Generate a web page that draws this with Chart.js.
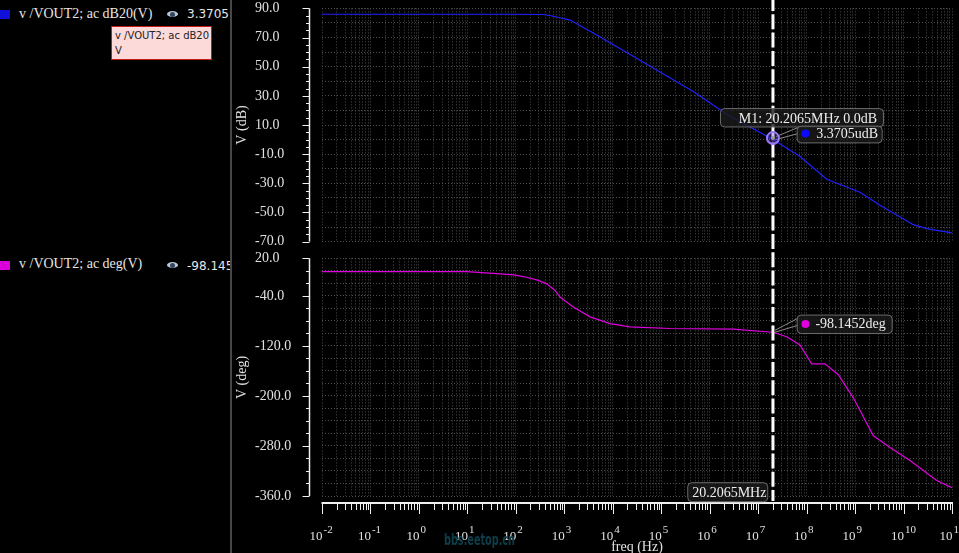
<!DOCTYPE html>
<html>
<head>
<meta charset="utf-8">
<script src="https://cdn.jsdelivr.net/npm/chart.js@4.4.1/dist/chart.umd.min.js"></script>
<style>
html, body { margin: 0; padding: 0; background: #000; width: 959px; height: 553px; overflow: hidden; }
#left { position: absolute; left: 0; top: 0; width: 230px; height: 553px; overflow: hidden; background: #000; }
#sep { position: absolute; left: 230px; top: 0; width: 2px; height: 553px; background: #474747; }
.sw { position: absolute; left: 0; width: 10px; height: 9px; }
.lg { position: absolute; left: 19px; font: 14px/14px "Liberation Serif", serif; color: #e6e6e6; white-space: nowrap; }
.eye { position: absolute; left: 167px; width: 11px; height: 6px; border-radius: 50%; background: #b9c8d8; }
.eye:after { content: ""; position: absolute; left: 3px; top: 0.5px; width: 5px; height: 5px; border-radius: 50%; background: #33475e; }
.val { position: absolute; left: 187px; font: 12px/12px "DejaVu Sans", sans-serif; color: #e6e6e6; white-space: nowrap; }
#tip { position: absolute; left: 111px; top: 26px; width: 96px; height: 31px; padding: 1px 0 0 3px; box-sizing: content-box;
       background: #fddada; border: 1px solid #c41a1a; font: 10px/15px "DejaVu Sans", sans-serif; color: #222; }
canvas { position: absolute; }
</style>
</head>
<body>
<div id="left">
  <div class="sw" style="top:10px;background:#1010d8"></div>
  <div class="lg" style="top:7px">v /VOUT2; ac dB20(V)</div>
  <div class="eye" style="top:11px"></div>
  <div class="val" style="top:8px">3.3705</div>
  <div id="tip">v /VOUT2; ac dB20<br>V</div>

  <div class="sw" style="top:261px;background:#d900d9"></div>
  <div class="lg" style="top:257px">v /VOUT2; ac deg(V)</div>
  <div class="eye" style="top:262px"></div>
  <div class="val" style="top:260px">-98.1452</div>
</div>
<div id="sep"></div>
<canvas id="gainChart" width="727" height="250" style="left:232px;top:0px"></canvas>
<canvas id="phaseChart" width="727" height="303" style="left:232px;top:250px"></canvas>

<script>
// values
const freqGain = [1e-2, 1, 1e2, 3.7e2, 5.6e2, 8.15e2, 1.31e3, 3.96e3, 1.94e4, 9.44e4, 4.59e5, 2.24e6,
                  2.02e7, 7.3e7, 2.6e8, 1.26e9, 3.27e9, 1.59e10, 3.0e10, 1e11];
const gainDb = [86, 86, 86, 85.8, 84.8, 83.6, 82.0, 73.1, 59.7, 46.3, 33.0, 17.4,
                0, -11.6, -27.2, -36.1, -45, -58.4, -61.1, -64];

const freqPhase = [1e-2, 1, 9.7, 34, 89, 1.43e2, 2.7e2, 4.34e2, 6.43e2, 8.15e2, 1.53e3, 3.39e3, 8.77e3,
                   2.27e4, 1.52e5, 3.03e6, 2.02e7, 3.88e7, 7.3e7, 1.27e8, 2.39e8, 4.51e8, 9.2e8,
                   2.38e9, 5.26e9, 1.36e10, 4.84e10, 1e11];
const phaseDeg = [-1, -1, -1, -3.8, -6.5, -9, -14.4, -20.7, -31.2, -41.8, -57.7, -73.5, -84.2,
                  -89.4, -92.1, -93.1, -98.1, -105.3, -118.5, -148.6, -148.6, -166, -203,
                  -263.8, -282.3, -303.4, -335.1, -346.7];

// axes
const decades = [-2, -1, 0, 1, 2, 3, 4, 5, 6, 7, 8, 9, 10, 11];
const dbGrid = [90, 80, 70, 60, 50, 40, 30, 20, 10, 0, -10, -20, -30, -40, -50, -60, -70];
const dbLabels = [90, 70, 50, 30, 10, -10, -30, -50, -70];
const degGrid = [20, 0, -20, -40, -60, -80, -100, -120, -140, -160, -180, -200, -220, -240,
                 -260, -280, -300, -320, -340, -360];
const degLabels = [20, -40, -120, -200, -280, -360];

// marker M1
const markerFreq = 20.2065e6;
const markerGain = 3.3705e-6;
const markerPhase = -98.1452;

const gridColor = '#4c4c4c';
const textColor = '#e0e0e0';
const serif = '"Liberation Serif", "Times New Roman", serif';

// log minor ticks 1..9 per decade
const xTickVals = [];
decades.forEach(function (e) {
    for (let m = 1; m <= 9; m++) {
        if (e === 11 && m > 1) break;
        xTickVals.push(Number((m * Math.pow(10, e)).toPrecision(3)));
    }
});
const isDecade = v => Math.abs(Math.log10(v) - Math.round(Math.log10(v))) < 1e-9;

const dbMinor = [];
for (let v = 90; v >= -70; v -= 5) dbMinor.push(v);

function roundBox(ctx, x, y, w, h) {
    ctx.beginPath();
    ctx.roundRect(x, y, w, h, 4);
    ctx.fillStyle = 'rgba(26,26,26,0.8)';
    ctx.fill();
    ctx.strokeStyle = '#6b6b6b';
    ctx.lineWidth = 1;
    ctx.stroke();
}

function markerLine(chart, y0, y1, offset) {
    const ctx = chart.ctx;
    const px = chart.scales.x.getPixelForValue(markerFreq);
    ctx.save();
    ctx.strokeStyle = '#ffffff';
    ctx.lineWidth = 3;
    ctx.setLineDash([15, 3.3]);
    ctx.lineDashOffset = offset;
    ctx.beginPath();
    ctx.moveTo(px, y0);
    ctx.lineTo(px, y1);
    ctx.stroke();
    ctx.restore();
}

function yAxisDecor(chart, tickVals, labelVals, title, titleCy) {
    const ctx = chart.ctx, c = chart.chartArea, ys = chart.scales.y;
    const ax = c.left - 12.5;
    ctx.save();
    ctx.strokeStyle = '#f0f0f0';
    ctx.lineWidth = 1.5;
    ctx.beginPath();
    ctx.moveTo(ax, c.top);
    ctx.lineTo(ax, c.bottom);
    ctx.stroke();
    ctx.lineWidth = 1;
    ctx.beginPath();
    tickVals.forEach(function (v) {
        const py = Math.round(ys.getPixelForValue(v)) + 0.5;
        const len = labelVals.includes(v) ? 7 : 3.5;
        ctx.moveTo(ax - len, py);
        ctx.lineTo(ax, py);
    });
    ctx.stroke();
    ctx.fillStyle = textColor;
    ctx.font = '14px ' + serif;
    ctx.translate(10, titleCy);
    ctx.rotate(-Math.PI / 2);
    ctx.textAlign = 'center';
    ctx.textBaseline = 'middle';
    ctx.fillText(title, 0, 0);
    ctx.restore();
}

function options(yMin, yMax, yGrid, yLabels, padding, xHeight) {
    return {
        responsive: false,
        animation: false,
        layout: { autoPadding: false, padding: padding },
        plugins: { legend: { display: false }, tooltip: { enabled: false } },
        scales: {
            x: {
                type: 'logarithmic',
                min: 1e-2,
                max: 1e11,
                afterBuildTicks: s => { s.ticks = xTickVals.map(v => ({ value: v })); },
                afterFit: s => { s.height = xHeight; },
                ticks: { display: false, autoSkip: false },
                grid: { color: gridColor, lineWidth: 1, drawTicks: false },
                border: { display: false, dash: [1, 2] }
            },
            y: {
                min: yMin,
                max: yMax,
                afterBuildTicks: s => { s.ticks = yGrid.map(v => ({ value: v })); },
                afterFit: s => { s.width = 67; },
                ticks: {
                    autoSkip: false,
                    crossAlign: 'far',
                    padding: 0,
                    color: textColor,
                    font: { family: serif, size: 14 },
                    callback: v => yLabels.includes(v) ? v.toFixed(1) : ''
                },
                grid: { color: gridColor, lineWidth: 1, drawTicks: false },
                border: { display: false, dash: [1, 2] }
            }
        }
    };
}

// gain plot
const gainDeco = {
    id: 'gainDeco',
    afterDraw(chart) {
        const ctx = chart.ctx;
        yAxisDecor(chart, dbMinor, dbLabels, 'V (dB)', 125);
        markerLine(chart, 0, chart.height, 4);
        const mx = chart.scales.x.getPixelForValue(markerFreq);
        const my = chart.scales.y.getPixelForValue(markerGain);
        ctx.save();
        ctx.strokeStyle = '#8a8a8a';
        ctx.lineWidth = 1;
        ctx.beginPath();
        ctx.moveTo(mx + 3, my - 3); ctx.lineTo(mx + 25, my - 12);
        ctx.moveTo(mx + 3, my);     ctx.lineTo(mx + 25, my - 6);
        ctx.stroke();
        roundBox(ctx, mx - 52.5, my - 31, 163, 18.4);
        roundBox(ctx, mx + 24.2, my - 13.4, 85, 16.7);
        ctx.fillStyle = '#eeeeee';
        ctx.font = '14px ' + serif;
        ctx.textAlign = 'left';
        ctx.textBaseline = 'alphabetic';
        ctx.fillText('M1: 20.2065MHz 0.0dB', mx - 34.2, my - 17);
        ctx.fillText('3.3705udB', mx + 43.2, my - 1.4);
        ctx.fillStyle = '#0a0aff';
        ctx.beginPath(); ctx.arc(mx + 32.5, my - 6, 4, 0, Math.PI * 2); ctx.fill();
        // marker ring
        ctx.beginPath(); ctx.arc(mx, my - 1.5, 6, 0, Math.PI * 2);
        ctx.fillStyle = 'rgba(110,80,210,0.35)'; ctx.fill();
        ctx.strokeStyle = '#9a78f7'; ctx.lineWidth = 2; ctx.stroke();
        ctx.beginPath(); ctx.arc(mx, my - 1.5, 2, 0, Math.PI * 2);
        ctx.fillStyle = '#9a9a9a'; ctx.fill();
        ctx.restore();
    }
};

new Chart(document.getElementById('gainChart').getContext('2d'), {
    type: 'line',
    data: {
        datasets: [{
            data: freqGain.map((f, i) => ({ x: f, y: gainDb[i] })),
            borderColor: '#2020ff',
            borderWidth: 1.2,
            pointRadius: 0,
            tension: 0
        }]
    },
    options: options(-70, 90, dbGrid, dbLabels, { left: 23, right: 7, top: 5, bottom: 6 }, 0),
    plugins: [gainDeco]
});

// phase plot
const phaseDeco = {
    id: 'phaseDeco',
    afterDraw(chart) {
        const ctx = chart.ctx, c = chart.chartArea, xs = chart.scales.x;
        yAxisDecor(chart, degGrid, degLabels, 'V (deg)', 127.5);

        // frequency axis
        const ay = c.bottom + 7;
        ctx.save();
        ctx.strokeStyle = '#f0f0f0';
        ctx.lineWidth = 2;
        ctx.beginPath();
        ctx.moveTo(c.left - 0.5, ay);
        ctx.lineTo(c.right + 1, ay);
        ctx.stroke();
        ctx.lineWidth = 1;
        ctx.beginPath();
        xTickVals.forEach(function (v) {
            const px = Math.round(xs.getPixelForValue(v)) + 0.5;
            ctx.moveTo(px, ay);
            ctx.lineTo(px, ay + (isDecade(v) ? 11 : 7));
        });
        ctx.stroke();
        ctx.fillStyle = textColor;
        ctx.textBaseline = 'alphabetic';
        decades.forEach(function (e) {
            const px = xs.getPixelForValue(Math.pow(10, e));
            ctx.font = '13px ' + serif;
            ctx.textAlign = 'right';
            ctx.fillText('10', px + 0.5, c.bottom + 44);
            ctx.font = '11px ' + serif;
            ctx.textAlign = 'left';
            ctx.fillText(String(e), px + 1.5, c.bottom + 37);
        });
        ctx.font = '14px ' + serif;
        ctx.textAlign = 'center';
        ctx.fillText('freq (Hz)', (c.left + c.right) / 2, c.bottom + 55);

        // watermark
        ctx.font = 'bold 16px "Liberation Sans Narrow", "DejaVu Sans Condensed", sans-serif';
        const wm = 'bbs.eetop.cn';
        const w = ctx.measureText(wm).width;
        ctx.translate(212, c.bottom + 49);
        ctx.scale(71 / w, 1);
        ctx.fillStyle = '#0e3e4a';
        ctx.textAlign = 'left';
        ctx.fillText(wm, 0, 0);
        ctx.restore();

        markerLine(chart, 0, c.bottom + 5, 16.1);

        const mx = xs.getPixelForValue(markerFreq);
        const my = chart.scales.y.getPixelForValue(markerPhase);
        ctx.save();
        ctx.strokeStyle = '#8a8a8a';
        ctx.lineWidth = 1;
        ctx.beginPath();
        ctx.moveTo(mx + 2, my - 2); ctx.lineTo(mx + 25, my - 14);
        ctx.moveTo(mx + 2, my);     ctx.lineTo(mx + 25, my - 7);
        ctx.stroke();
        roundBox(ctx, mx + 24.2, my - 17.2, 95, 18.4);
        roundBox(ctx, mx - 85.2, c.bottom - 13.3, 80, 19);
        ctx.fillStyle = '#eeeeee';
        ctx.font = '14px ' + serif;
        ctx.textAlign = 'left';
        ctx.fillText('-98.1452deg', mx + 42.5, my - 4.5);
        ctx.fillText('20.2065MHz', mx - 80.8, c.bottom + 1);
        ctx.fillStyle = '#e000e0';
        ctx.beginPath(); ctx.arc(mx + 32.5, my - 8.2, 4, 0, Math.PI * 2); ctx.fill();
        ctx.restore();
    }
};

new Chart(document.getElementById('phaseChart').getContext('2d'), {
    type: 'line',
    data: {
        datasets: [{
            data: freqPhase.map((f, i) => ({ x: f, y: phaseDeg[i] })),
            borderColor: '#e000e0',
            borderWidth: 1.2,
            pointRadius: 0,
            tension: 0
        }]
    },
    options: options(-360, 20, degGrid, degLabels, { left: 23, right: 7, top: 6, bottom: 0 }, 57),
    plugins: [phaseDeco]
});
</script>
</body>
</html>
